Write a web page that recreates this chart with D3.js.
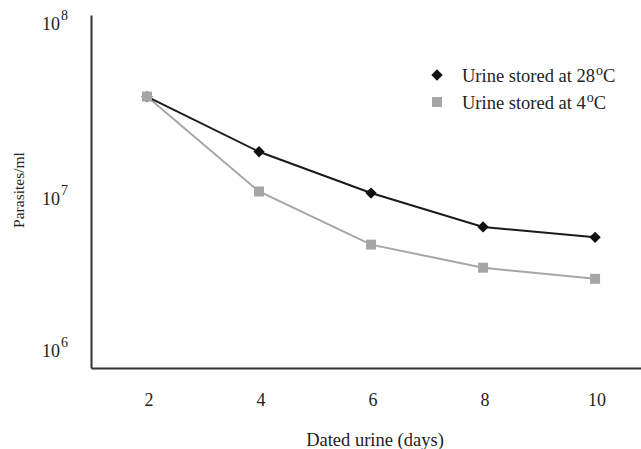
<!doctype html>
<html lang="en">
    <head>
        <meta charset="UTF-8">
        <title>Parasites in dated urine</title>
        <style>
            body { margin: 0; background: #fff; }
            text { font-family: "Liberation Serif", "Times New Roman", serif; fill: #222; }
        </style>
    </head>
    <body>
        <script src="https://d3js.org/d3.v7.min.js"></script>
        <script>
            var days = [2, 4, 6, 8, 10];
            var warm = [3.45e7, 1.68e7, 9.8e6, 6.3e6, 5.5e6];   // 28oC
            var cold = [3.45e7, 1.0e7, 5.0e6, 3.7e6, 3.2e6];    // 4oC
            var yTicks = [1e6, 1e7, 1e8];
            var yExp = ["6", "7", "8"];
            var seriesNames = ["Urine stored at 28", "Urine stored at 4"];

            var width = 641, height = 449;

            var svg = d3.select("body").append("svg")
                .attr("width", width)
                .attr("height", height);

            var x = d3.scaleLinear().domain([1, 10.82]).range([91, 641]);
            var y = d3.scaleLog().domain([1e6, 1e8]).range([368, 15]);

            // axes, no tick marks
            svg.append("g")
                .attr("transform", "translate(0,368)")
                .call(d3.axisBottom(x).tickValues(days).tickSize(0).tickPadding(0).tickFormat(""))
                .call(function(g) { g.select(".domain").attr("stroke", "#333").attr("stroke-width", 2); });

            svg.append("g")
                .attr("transform", "translate(91,0)")
                .call(d3.axisLeft(y).tickValues(yTicks).tickSize(0).tickFormat(""))
                .call(function(g) { g.select(".domain").attr("stroke", "#333").attr("stroke-width", 2); });

            // x tick labels
            svg.selectAll(".xlab")
                .data(days)
                .enter().append("text")
                    .attr("x", function(d) { return x(d) + 2; })
                    .attr("y", 406)
                    .attr("text-anchor", "middle")
                    .style("font-size", "18px")
                    .text(function(d) { return d; });

            // y tick labels (the picture places them a bit off the gridline)
            var nudge = [-11, 13, 15];
            yTicks.forEach(function(v, i) {
                var t = svg.append("text")
                    .attr("x", 42)
                    .attr("y", y(v) + nudge[i])
                    .style("font-size", "18px");
                t.append("tspan").text("10");
                t.append("tspan").attr("dx", 1).attr("dy", -10).style("font-size", "14px").text(yExp[i]);
            });

            svg.append("text")
                .attr("transform", "translate(24,190) rotate(-90)")
                .attr("text-anchor", "middle")
                .style("font-size", "15.5px")
                .text("Parasites/ml");

            svg.append("text")
                .attr("x", 375)
                .attr("y", 446)
                .attr("text-anchor", "middle")
                .style("font-size", "18.5px")
                .text("Dated urine (days)");

            var line = d3.line()
                .x(function(d, i) { return x(days[i]); })
                .y(function(d) { return y(d); });

            svg.append("path")
                .datum(cold)
                .attr("fill", "none")
                .attr("stroke", "#a6a6a6")
                .attr("stroke-width", 2)
                .attr("d", line);

            svg.append("path")
                .datum(warm)
                .attr("fill", "none")
                .attr("stroke", "#1a1a1a")
                .attr("stroke-width", 2)
                .attr("d", line);

            var diamond = d3.symbol().type(d3.symbolSquare).size(64);
            var square = d3.symbol().type(d3.symbolSquare).size(100);

            svg.selectAll(".warm")
                .data(warm)
                .enter().append("path")
                    .attr("transform", function(d, i) { return "translate(" + x(days[i]) + "," + y(d) + ") rotate(45)"; })
                    .attr("d", diamond)
                    .attr("fill", "#111");

            svg.selectAll(".cold")
                .data(cold)
                .enter().append("path")
                    .attr("transform", function(d, i) { return "translate(" + x(days[i]) + "," + y(d) + ")"; })
                    .attr("d", square)
                    .attr("fill", "#a6a6a6");

            // legend
            var legend = svg.append("g");
            var markers = [
                { shape: diamond, rot: 45, fill: "#111" },
                { shape: square, rot: 0, fill: "#a6a6a6" }
            ];
            seriesNames.forEach(function(name, i) {
                var ly = 75 + i * 27;
                legend.append("path")
                    .attr("transform", "translate(437," + ly + ") rotate(" + markers[i].rot + ")")
                    .attr("d", markers[i].shape)
                    .attr("fill", markers[i].fill);
                var t = legend.append("text")
                    .attr("x", 462)
                    .attr("y", ly + 7)
                    .style("font-size", "18.5px");
                t.append("tspan").text(name);
                t.append("tspan").attr("dx", 1).attr("dy", -7).style("font-size", "14px").text("o");
                t.append("tspan").attr("dy", 7).text("C");
            });
        </script>
    </body>
</html>
